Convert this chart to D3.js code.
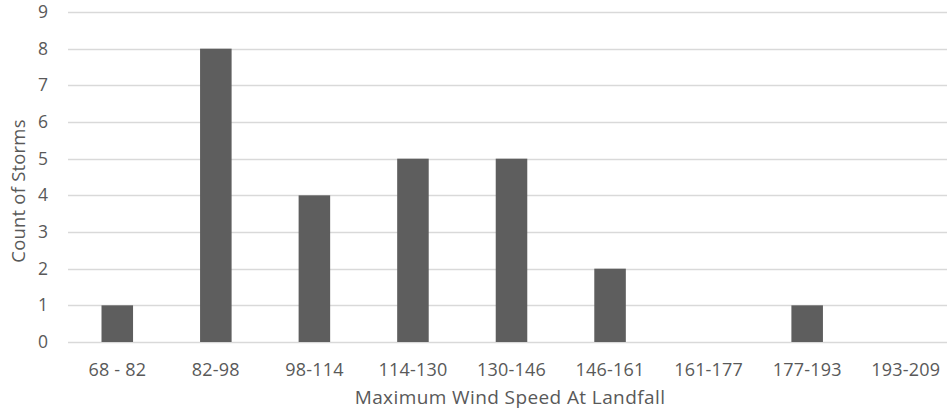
<!DOCTYPE html>
<html>
<head>
<meta charset="utf-8">
<script src="https://cdn.jsdelivr.net/npm/d3@7"></script>
<style>
  html, body { margin: 0; padding: 0; background: #fff; }
  svg { display: block; }
  text { font-family: "Open Sans", "Liberation Sans", sans-serif; fill: #595959; }
</style>
</head>
<body>
<svg id="chart" width="948" height="414"></svg>
<script>
// Storm counts grouped by maximum wind speed at landfall
const categories = ["68 - 82", "82-98", "98-114", "114-130", "130-146", "146-161", "161-177", "177-193", "193-209"];
const counts = [1, 8, 4, 5, 5, 2, 0, 1, 0];
const yTicks = [0, 1, 2, 3, 4, 5, 6, 7, 8, 9];
const xTitle = "Maximum Wind Speed At Landfall";
const yTitle = "Count of Storms";

const svg = d3.select("#chart");
const plotLeft = 68, plotRight = 955, plotTop = 12, plotBottom = 342, gridEnd = 947;

const x = d3.scaleBand()
  .domain(categories)
  .range([plotLeft, plotRight])
  .paddingInner(0.68)
  .paddingOuter(0.34);

const y = d3.scaleLinear()
  .domain([0, 9])
  .range([plotBottom, plotTop]);

// horizontal gridlines
svg.append("g")
  .selectAll("line")
  .data(yTicks)
  .join("line")
  .attr("x1", plotLeft)
  .attr("x2", gridEnd)
  .attr("y1", d => Math.round(y(d)) + 0.5)
  .attr("y2", d => Math.round(y(d)) + 0.5)
  .attr("stroke", "#d9d9d9")
  .attr("stroke-width", 1.3);

// y-axis labels
const yAxis = d3.axisLeft(y).tickValues(yTicks).tickSize(0).tickPadding(0);
svg.append("g")
  .attr("transform", `translate(${plotLeft - 20},0)`)
  .call(yAxis)
  .call(g => g.select(".domain").remove())
  .call(g => g.selectAll("text")
    .style("font-family", "'Open Sans', sans-serif")
    .style("font-size", "17.5px")
    .attr("fill", "#595959"));

// bars
svg.append("g")
  .selectAll("rect")
  .data(categories.map((c, i) => ({ c, v: counts[i] })))
  .join("rect")
  .attr("x", d => x(d.c))
  .attr("width", x.bandwidth())
  .attr("y", d => y(d.v))
  .attr("height", d => y(0) - y(d.v))
  .attr("fill", "#5e5e5e");

// x-axis labels
const xAxis = d3.axisBottom(x).tickSize(0).tickPadding(0);
svg.append("g")
  .attr("transform", `translate(0,${plotBottom + 34})`)
  .call(xAxis)
  .call(g => g.select(".domain").remove())
  .call(g => g.selectAll("text")
    .attr("dy", "0")
    .style("font-family", "'Open Sans', sans-serif")
    .style("font-size", "18px")
    .style("letter-spacing", "0.2px")
    .attr("fill", "#595959"));

// axis titles
svg.append("text")
  .attr("x", 510)
  .attr("y", 404)
  .attr("text-anchor", "middle")
  .style("font-size", "19px")
  .style("letter-spacing", "0.4px")
  .text(xTitle);

svg.append("text")
  .attr("transform", "translate(25,191) rotate(-90)")
  .attr("text-anchor", "middle")
  .style("font-size", "18.5px")
  .style("letter-spacing", "0.2px")
  .text(yTitle);
</script>
</body>
</html>
